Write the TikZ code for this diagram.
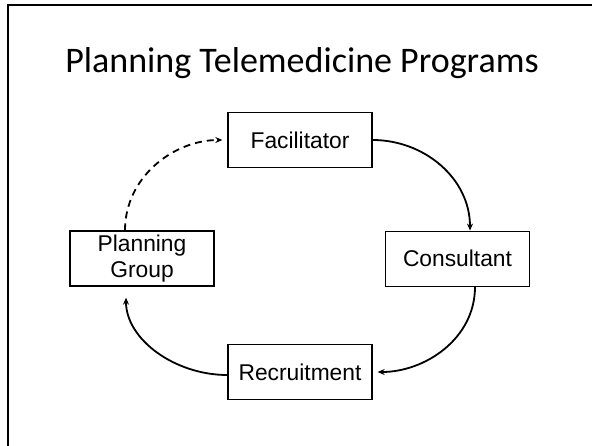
\documentclass[tikz,border=0pt]{standalone}
\usepackage{fontspec}
\setmainfont{Liberation Sans}
\newfontfamily\titlefont{Carlito}
\usetikzlibrary{arrows.meta}
\begin{document}
\begin{tikzpicture}[x=1pt,y=-1pt,
  stepbox/.style={draw=black,line width=1.3pt,minimum width=144pt,minimum height=55pt,inner sep=0pt,
    font=\fontsize{22.8}{26}\selectfont,align=center},
  flow/.style={line width=1.8pt,-{Stealth[length=7pt,width=6pt]}},
  dflow/.style={flow,dash pattern=on 7pt off 5pt}]
\useasboundingbox (0,0) rectangle (592,445);
\fill[white] (0,0) rectangle (592,445);
\draw[line width=2pt] (7.5,446) -- (7.5,5) -- (593,5);
\node[font=\titlefont\fontsize{36}{40}\selectfont,anchor=base] (title) at (302,72) {Planning Telemedicine Programs};
\node[stepbox] (fac) at (300,140) {Facilitator};
\node[stepbox] (con) at (457.5,258.7) {Consultant};
\node[stepbox] (rec) at (300,372) {Recruitment};
\node[stepbox] (pg) at (142,258.5) {Planning\\Group};
\draw[flow] (fac.east) to[out=0,in=90] ([xshift=12.5pt]con.north);
\draw[flow,shorten >=5pt] ([xshift=17.5pt]con.south) to[out=-90,in=0] (rec.east);
\draw[flow,shorten >=11pt] ([yshift=-3pt]rec.west) to[out=180,in=-90] ([xshift=-16pt]pg.south);
\draw[dflow,shorten >=5pt] ([xshift=-17pt]pg.north) to[out=90,in=180] (fac.west);
\end{tikzpicture}
\end{document}
